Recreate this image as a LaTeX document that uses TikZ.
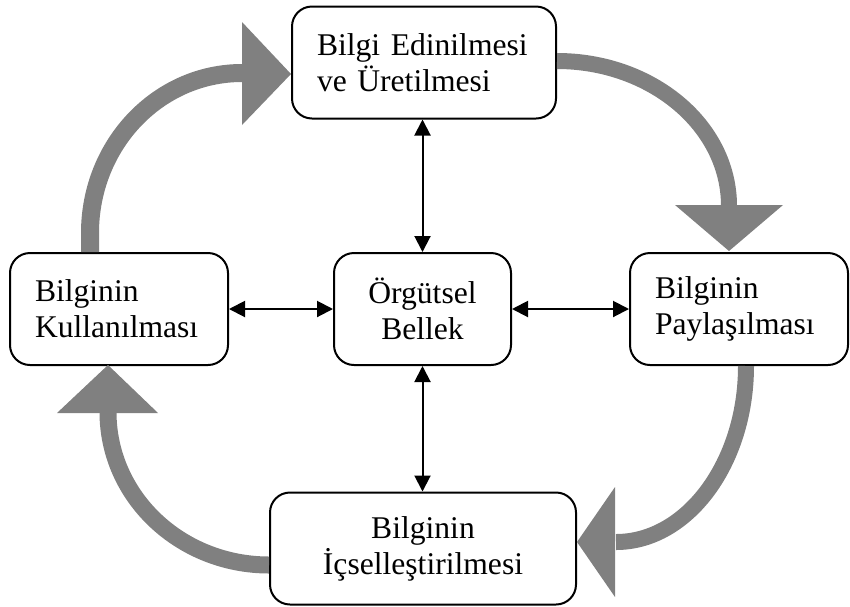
\documentclass[tikz,border=0pt]{standalone}
\usepackage{fontspec}
\setmainfont{Liberation Serif}
\usetikzlibrary{arrows.meta,calc}

\tikzset{
  stage/.style={draw, line width=1pt, rounded corners=10pt, fill=white,
    inner xsep=12.5pt, inner ysep=0pt, minimum height=56pt,
    font=\fontsize{15.8}{18}\selectfont},
  leftstage/.style={stage, align=left, text width=#1},
  midstage/.style={stage, align=center, text width=#1},
  link/.style={line width=1pt, {Triangle[length=8pt,width=8pt]}-{Triangle[length=8pt,width=8pt]}},
  flow/.style={draw=gray, line width=#1, line cap=butt},
  flowhead/.style={fill=gray, draw=none}
}

\begin{document}
\begin{tikzpicture}[x=0.5pt,y=-0.5pt]
  \useasboundingbox (0,0) rectangle (850,606);

  % process stages
  \node[leftstage=107pt] (top)    at (424,62.5)  {Bilgi Edinilmesi\\ve Üretilmesi};
  \node[leftstage=84pt]  (left)   at (119,309)   {Bilginin\\Kullanılması};
  \node[midstage=63.5pt] (center) at (422.5,309) {Örgütsel\\Bellek};
  \node[leftstage=84pt]  (right)  at (739,309)   {Bilginin\\Paylaşılması};
  \node[midstage=128pt]  (bottom) at (423,548.5) {Bilginin\\İçselleştirilmesi};

  % two-way links to the central memory
  \draw[link] (left.east) -- (center.west);
  \draw[link] (center.east) -- (right.west);
  \draw[link] (center.north) -- (center.north |- top.south);
  \draw[link] (center.south) -- (center.south |- bottom.north);

  % cycle: use -> acquisition
  \coordinate (a1) at ($(left.north)+(-29,0)$);
  \coordinate (a1e) at (242,73);
  \draw[flow=9pt] (a1) -- (90,233) .. controls (90,144.6) and (158,73) .. (a1e);
  \fill[flowhead] (242,22) -- (291,74) -- (242,125) -- cycle;

  % acquisition -> sharing
  \coordinate (a2) at ($(top.east)+(0,-1.5)$);
  \coordinate (a2e) at (729,206);
  \draw[flow=8pt] (a2) .. controls (651.5,61) and (729,125.5) .. (a2e);
  \fill[flowhead] (675,205) -- (783,205) -- (729,251) -- cycle;

  % sharing -> internalisation
  \coordinate (a3) at ($(right.south)+(7,0)$);
  \coordinate (a3e) at (616,542);
  \draw[flow=8pt] (a3) .. controls (746,462.8) and (687.4,542) .. (a3e);
  \fill[flowhead] (615,487) -- (615,597) -- (577,542) -- cycle;

  % internalisation -> use
  \coordinate (a4) at ($(bottom.west)+(0,16.5)$);
  \coordinate (a4e) at (108,412);
  \draw[flow=8.5pt] (a4) .. controls (180.5,565) and (108,497) .. (a4e);
  \fill[flowhead] (57,413) -- (158,413) -- (108,365) -- cycle;
\end{tikzpicture}
\end{document}
